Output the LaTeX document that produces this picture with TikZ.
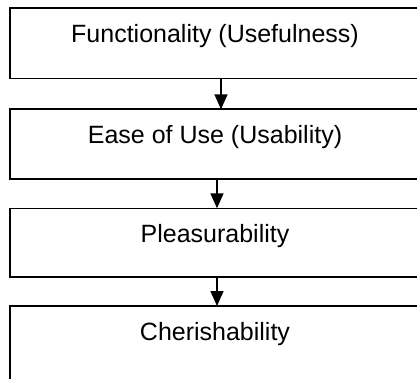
\documentclass[tikz,border=0pt]{standalone}
\usepackage{fontspec}
\setmainfont{Liberation Sans}
\usetikzlibrary{arrows.meta}
\begin{document}
\begin{tikzpicture}[x=1pt,y=1pt,
  stage/.style={draw, line width=1.6pt, inner sep=0pt, outer sep=0pt,
    minimum width=410pt, anchor=north, text height=34pt,
    font=\fontsize{25}{30}\selectfont},
  arr/.style={line width=1.6pt, -{Triangle[width=13pt,length=15pt]}}]
\useasboundingbox (0,0) rectangle (417,378);
\clip (0,0) rectangle (417,378);
\node[stage, text depth=36.4pt] (f) at (215,369.7) {Functionality (Usefulness)};
\node[stage, text depth=35.4pt] (e) at (215,268.7) {Ease of Use (Usability)};
\node[stage, text depth=34.4pt] (p) at (215,169.7) {Pleasurability};
\node[stage, text depth=70pt] (c) at (215,72) {Cherishability};
\draw[arr] ([xshift=6pt]f.south) -- ([xshift=6pt]e.north);
\draw[arr] ([xshift=2pt]e.south) -- ([xshift=2pt]p.north);
\draw[arr] ([xshift=2pt]p.south) -- ([xshift=2pt]c.north);
\end{tikzpicture}
\end{document}
